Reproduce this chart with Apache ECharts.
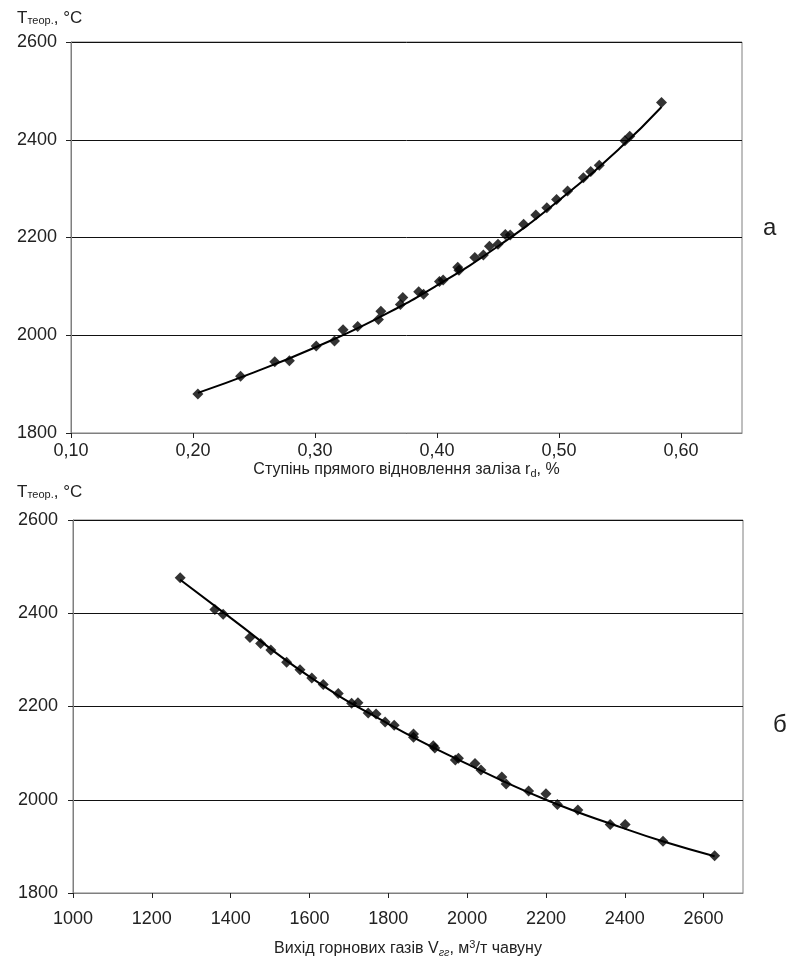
<!DOCTYPE html>
<html>
<head>
<meta charset="utf-8">
<script src="https://cdn.jsdelivr.net/npm/echarts@6/dist/echarts.min.js"></script>
<style>
html,body{margin:0;padding:0;background:#fff;}
#c{width:788px;height:962px;}
</style>
</head>
<body>
<div id="c"></div>
<script>
// ---- Chart a: direct reduction degree vs theoretical temperature ----
const topX = [0.204,0.239,0.267,0.279,0.301,0.316,0.323,0.335,0.352,0.354,0.370,0.372,0.385,0.389,0.402,0.405,0.417,0.418,0.431,0.438,0.443,0.450,0.456,0.460,0.471,0.481,0.490,0.498,0.507,0.520,0.526,0.533,0.554,0.558,0.584];
const topY = [1880,1916,1946,1948,1978,1988,2011,2018,2032,2049,2063,2077,2089,2084,2110,2113,2139,2133,2159,2164,2182,2186,2206,2205,2227,2246,2261,2278,2295,2322,2335,2348,2398,2407,2476];
const topFitX = [0.204,0.25,0.30,0.35,0.40,0.45,0.50,0.55,0.584];
const topFitY = [1882,1924,1975,2033,2102,2182,2276,2383,2467];

// ---- Chart б: blast furnace gas output vs theoretical temperature ----
const botX = [1272,1360,1381,1449,1476,1502,1542,1576,1606,1635,1673,1707,1723,1749,1769,1792,1815,1864,1864,1914,1918,1970,1978,2020,2035,2088,2099,2156,2200,2229,2281,2363,2401,2497,2628];
const botY = [2476,2408,2398,2348,2335,2321,2295,2279,2261,2247,2228,2207,2208,2186,2184,2167,2160,2141,2134,2116,2111,2085,2089,2078,2064,2049,2034,2019,2013,1990,1978,1947,1947,1911,1880];
const botFitX = [1272,1400,1600,1800,2000,2200,2400,2500,2628];
const botFitY = [2472,2390,2264,2163,2077,2000,1938,1910,1879];

// tick label sets
const yTicks = [1800,2000,2200,2400,2600];
const topXTicks = [0.10,0.20,0.30,0.40,0.50,0.60];
const botXTicks = [1000,1200,1400,1600,1800,2000,2200,2400,2600];

const zip = (a,b) => a.map((v,i)=>[v,b[i]]);
const FONT = '"Liberation Sans", Arial, sans-serif';

const chart = echarts.init(document.getElementById('c'), null, {renderer:'canvas'});

function yAxis(gridIndex, margin){
  return {
    type:'value', gridIndex, min:yTicks[0], max:yTicks[yTicks.length-1], interval:200,
    axisLine:{show:true, lineStyle:{color:'#7f7f7f', width:1}},
    axisTick:{show:true, length:5, lineStyle:{color:'#222'}},
    axisLabel:{color:'#222', fontSize:18, fontFamily:FONT, margin,
      formatter:v=>yTicks.includes(v)?String(v):''},
    splitLine:{show:true, lineStyle:{color:'#111', width:1}}
  };
}
const titleRich = {
  a:{fontSize:17, fontWeight:'normal', fontFamily:FONT, color:'#222'},
  b:{fontSize:11, fontWeight:'normal', fontFamily:FONT, color:'#222', padding:[4,0,0,0]}
};

const option = {
  animation:false,
  backgroundColor:'#fff',
  title:[
    {text:'{a|T}{b|теор.}{a|, °C}', left:12, top:5, textStyle:{fontWeight:'normal', rich:titleRich}},
    {text:'{a|T}{b|теор.}{a|, °C}', left:12, top:479, textStyle:{fontWeight:'normal', rich:titleRich}},
    {text:'а', left:758, top:211, textStyle:{fontSize:24, fontWeight:'normal', fontFamily:FONT, color:'#222'}},
    {text:'б', left:768, top:708, textStyle:{fontSize:24, fontWeight:'normal', fontFamily:FONT, color:'#222'}}
  ],
  grid:[
    {left:71, top:42, width:671, height:391, show:true, borderColor:'#7f7f7f', borderWidth:1, backgroundColor:'transparent'},
    {left:73, top:520, width:670, height:373, show:true, borderColor:'#7f7f7f', borderWidth:1, backgroundColor:'transparent'}
  ],
  xAxis:[
    {type:'value', gridIndex:0, min:0.10, max:0.65, interval:0.10,
     name:'Ступінь прямого відновлення заліза r{s|d}, %', nameLocation:'middle', nameGap:27,
     nameTextStyle:{fontSize:16, fontFamily:FONT, color:'#222', rich:{s:{fontSize:11, fontFamily:FONT, color:'#222', padding:[8,0,0,0]}}},
     axisLine:{show:true, onZero:false, lineStyle:{color:'#7f7f7f'}},
     axisTick:{show:true, length:5, lineStyle:{color:'#222'}},
     axisLabel:{color:'#222', fontSize:18, fontFamily:FONT, margin:9, showMaxLabel:false,
       formatter:v=>{const t=topXTicks.find(k=>Math.abs(k-v)<1e-6); return t===undefined?'':t.toFixed(2).replace('.',',');}},
     splitLine:{show:false}},
    {type:'value', gridIndex:1, min:1000, max:2700, interval:200,
     name:'Вихід горнових газів V{s|гг}, м{p|3}/т чавуну', nameLocation:'middle', nameGap:46,
     nameTextStyle:{fontSize:16, fontFamily:FONT, color:'#222', rich:{s:{fontSize:11, fontStyle:'italic', fontFamily:FONT, color:'#222', padding:[8,0,0,0]}, p:{fontSize:11, fontFamily:FONT, color:'#222', padding:[0,0,8,0]}}},
     axisLine:{show:true, onZero:false, lineStyle:{color:'#7f7f7f'}},
     axisTick:{show:true, length:5, lineStyle:{color:'#222'}},
     axisLabel:{color:'#222', fontSize:18, fontFamily:FONT, margin:17, showMaxLabel:false,
       formatter:v=>botXTicks.includes(v)?String(v):''},
     splitLine:{show:false}}
  ],
  yAxis:[yAxis(0,14), yAxis(1,15)],
  series:[
    {type:'line', xAxisIndex:0, yAxisIndex:0, data:zip(topFitX,topFitY), smooth:true, showSymbol:false, symbol:'none', lineStyle:{color:'#000', width:2}, z:2},
    {type:'scatter', xAxisIndex:0, yAxisIndex:0, data:zip(topX,topY), symbol:'diamond', symbolSize:11, itemStyle:{color:'#000'}, z:3},
    {type:'line', xAxisIndex:1, yAxisIndex:1, data:zip(botFitX,botFitY), smooth:true, showSymbol:false, symbol:'none', lineStyle:{color:'#000', width:2}, z:2},
    {type:'scatter', xAxisIndex:1, yAxisIndex:1, data:zip(botX,botY), symbol:'diamond', symbolSize:11, itemStyle:{color:'#000'}, z:3}
  ]
};
chart.setOption(option);
</script>
</body>
</html>
